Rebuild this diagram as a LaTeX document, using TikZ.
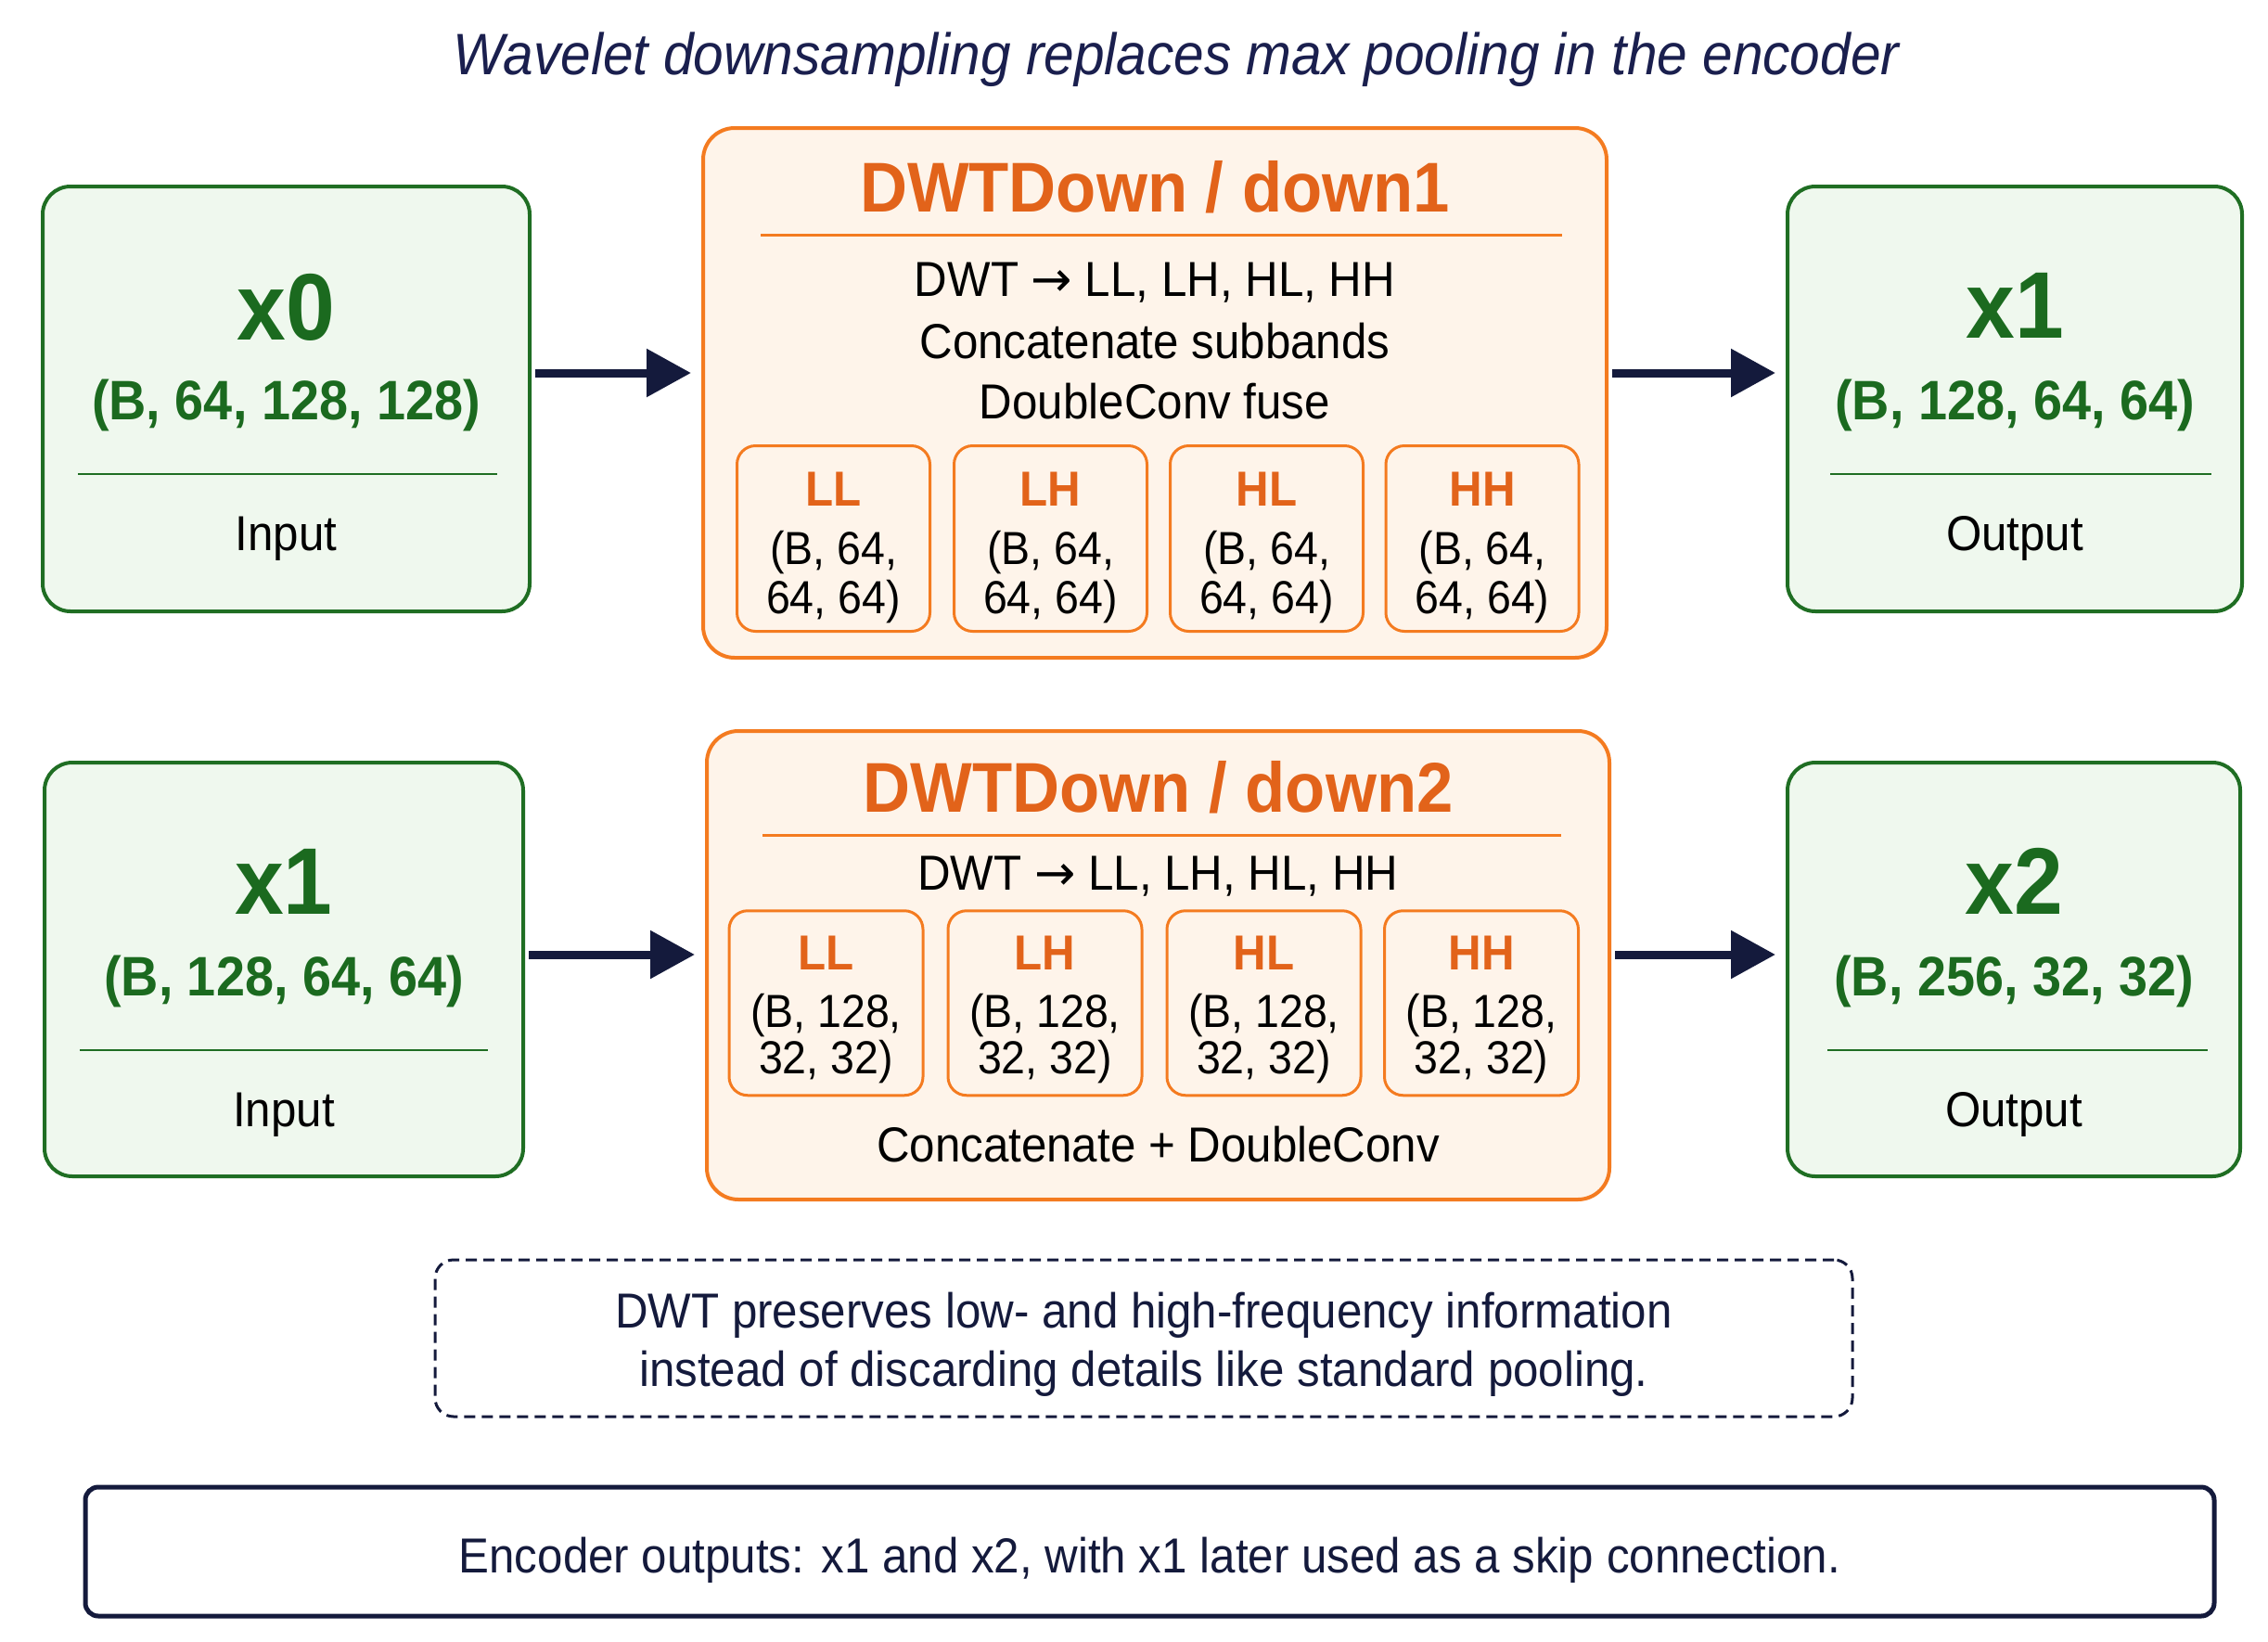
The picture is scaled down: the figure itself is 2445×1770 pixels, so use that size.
\documentclass[tikz,border=0pt]{standalone}
\usepackage{fontspec}
\setmainfont{Liberation Sans}[FakeStretch=0.93]
\newfontfamily\symf{DejaVu Sans}
\usetikzlibrary{arrows.meta,calc}
\definecolor{gborder}{HTML}{1F6E23}
\definecolor{gfill}{HTML}{EFF8EE}
\definecolor{gtext}{HTML}{1B6A1F}
\definecolor{oborder}{HTML}{F47B20}
\definecolor{ofill}{HTML}{FEF4EA}
\definecolor{otext}{HTML}{E2631A}
\definecolor{navy}{HTML}{141A3C}
\definecolor{tnavy}{HTML}{1A1F4E}
\newcommand{\rarr}{{\symf →}}
\begin{document}
\begin{tikzpicture}[x=1pt,y=-1pt,
  gbox/.style={draw=gborder, line width=4pt, fill=gfill, rounded corners=30pt, inner sep=0pt},
  obox/.style={draw=oborder, line width=4pt, fill=ofill, rounded corners=34pt, inner sep=0pt},
  sbox/.style={draw=oborder, line width=3pt, fill=ofill, rounded corners=20pt, inner sep=0pt, minimum width=208pt, minimum height=200pt},
  arr/.style={draw=navy, line width=9pt, -{Triangle[length=48pt,width=50pt]}, shorten >=11pt, shorten <=4pt},
  gline/.style={draw=gborder, line width=2.5pt},
  oline/.style={draw=oborder, line width=3pt},
  xl/.style={anchor=base, inner sep=0pt, font=\fontsize{102}{110}\selectfont\bfseries, text=gtext},
  dims/.style={anchor=base, inner sep=0pt, font=\fontsize{60}{66}\selectfont\bfseries, text=gtext},
  io/.style={anchor=base, inner sep=0pt, font=\fontsize{53}{60}\selectfont, text=black},
  otitle/.style={anchor=base, inner sep=0pt, font=\fontsize{76}{84}\selectfont\bfseries, text=otext},
  body/.style={anchor=base, inner sep=0pt, font=\fontsize{53}{60}\selectfont, text=black},
  sl/.style={anchor=base, inner sep=0pt, font=\fontsize{53}{60}\selectfont\bfseries, text=otext},
  sd/.style={anchor=base, inner sep=0pt, font=\fontsize{50}{54}\selectfont, text=black},
  note/.style={anchor=base, inner sep=0pt, font=\fontsize{53}{60}\selectfont, text=navy}
]
\useasboundingbox (0,0) rectangle (2445,1770);
\fill[white] (0,0) rectangle (2445,1770);

% title
\node[anchor=base, inner sep=0pt, font=\fontsize{63}{70}\selectfont\itshape, text=tnavy] (title) at (1268,80) {Wavelet downsampling replaces max pooling in the encoder};

% ---------- row 1 ----------
\node[gbox, minimum width=525pt, minimum height=458pt] (in0) at (308.5,430) {};
\node[xl] (in0x) at (308.5,366) {x0};
\node[dims] (in0d) at (308.5,452) {(B, 64, 128, 128)};
\draw[gline] (84,511) -- (536,511);
\node[io] (in0l) at (308.5,593) {Input};

\node[obox, minimum width=974pt, minimum height=571pt] (d1) at (1245,423.5) {};
\node[otitle] (d1t) at (1245,228) {DWTDown / down1};
\draw[oline] (820,253) -- (1684,253);
\node[body] (d1a) at (1245,319) {DWT \rarr\ LL, LH, HL, HH};
\node[body] (d1b) at (1245,386) {Concatenate subbands};
\node[body] (d1c) at (1245,451) {DoubleConv fuse};
\foreach \n/\x/\l in {1/898.5/LL, 2/1132.5/LH, 3/1365.5/HL, 4/1598/HH}{
  \node[sbox] (s1\n) at (\x,580.5) {};
  \node[sl] (s1l\n) at (\x,545) {\l};
  \node[sd] (s1a\n) at (\x,608) {(B, 64,};
  \node[sd] (s1b\n) at (\x,661.5) {64, 64)};
}

\node[gbox, minimum width=490pt, minimum height=458pt] (out1) at (2172,430) {};
\node[xl] (out1x) at (2172,364) {x1};
\node[dims] (out1d) at (2172,452) {(B, 128, 64, 64)};
\draw[gline] (1973,511) -- (2384,511);
\node[io] (out1l) at (2172,593) {Output};

\coordinate (r1) at (0,402);
\draw[arr] (in0.east |- r1) -- (d1.west |- r1);
\draw[arr] (d1.east |- r1) -- (out1.west |- r1);

% ---------- row 2 ----------
\node[gbox, minimum width=516pt, minimum height=446pt] (in1) at (306,1045) {};
\node[xl] (in1x) at (306,985) {x1};
\node[dims] (in1d) at (306,1073) {(B, 128, 64, 64)};
\draw[gline] (86,1132) -- (526,1132);
\node[io] (in1l) at (306,1214) {Input};

\node[obox, minimum width=973pt, minimum height=505pt] (d2) at (1248.5,1040.5) {};
\node[otitle] (d2t) at (1248.5,875) {DWTDown / down2};
\draw[oline] (822,900) -- (1683,900);
\node[body] (d2a) at (1248.5,959) {DWT \rarr\ LL, LH, HL, HH};
\foreach \n/\x/\l in {1/890.5/LL, 2/1126.5/LH, 3/1362.5/HL, 4/1597/HH}{
  \node[sbox, minimum width=209pt, minimum height=199pt] (s2\n) at (\x,1081.25) {};
  \node[sl] (s2l\n) at (\x,1045) {\l};
  \node[sd] (s2a\n) at (\x,1107) {(B, 128,};
  \node[sd] (s2b\n) at (\x,1157) {32, 32)};
}
\node[body] (d2c) at (1248.5,1252) {Concatenate + DoubleConv};

\node[gbox, minimum width=488pt, minimum height=446pt] (out2) at (2171,1045) {};
\node[xl] (out2x) at (2171,985) {x2};
\node[dims] (out2d) at (2171,1073) {(B, 256, 32, 32)};
\draw[gline] (1970,1132) -- (2380,1132);
\node[io] (out2l) at (2171,1214) {Output};

\coordinate (r2) at (0,1029);
\draw[arr] (in1.east |- r2) -- (d2.west |- r2);
\draw[arr] (d2.east |- r2) -- (out2.west |- r2);

% ---------- notes ----------
\node[draw=navy, line width=3pt, dash pattern=on 12pt off 7pt, rounded corners=20pt, minimum width=1528pt, minimum height=169pt, inner sep=0pt] (dash) at (1233,1442.5) {};
\node[note] (n1) at (1233,1431) {DWT preserves low- and high-frequency information};
\node[note] (n2) at (1233,1494) {instead of discarding details like standard pooling.};

\node[draw=navy, line width=5pt, fill=white, rounded corners=14pt, minimum width=2295pt, minimum height=139pt, inner sep=0pt] (foot) at (1239.5,1672.5) {};
\node[note] (f1) at (1239.5,1695) {Encoder outputs: x1 and x2, with x1 later used as a skip connection.};
\end{tikzpicture}
\end{document}
